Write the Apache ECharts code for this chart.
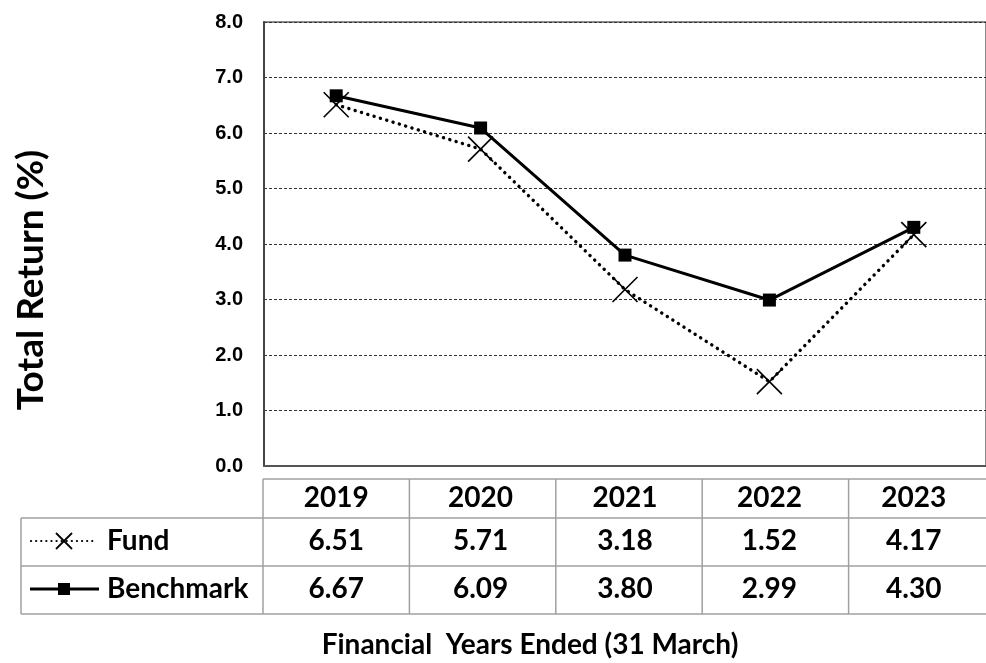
<!DOCTYPE html>
<html>
<head>
<meta charset="utf-8">
<script src="https://cdn.jsdelivr.net/npm/echarts@6/dist/echarts.min.js"></script>
<style>
  html, body { margin: 0; padding: 0; background: #fff; overflow: hidden; }
  #chart { width: 986px; height: 663px; }
</style>
</head>
<body>
<div id="chart"></div>
<script>
const years = ['2019', '2020', '2021', '2022', '2023'];
const fund = [6.51, 5.71, 3.18, 1.52, 4.17];
const benchmark = [6.67, 6.09, 3.80, 2.99, 4.30];
const yMin = 0, yMax = 8, yStep = 1;

const tableFont = 'bold 28px Lato';
const gridColor = '#a0a0a0';

const chart = echarts.init(document.getElementById('chart'));

chart.setOption({
  animation: false,
  grid: { left: 264, top: 22, width: 732, height: 444, show: true, borderColor: '#666', borderWidth: 1.5 },
  xAxis: {
    type: 'category',
    data: years,
    boundaryGap: true,
    axisLine: { lineStyle: { color: '#555', width: 2 } },
    axisTick: { show: false },
    axisLabel: { color: '#000', fontFamily: 'Lato', fontWeight: 'bold', fontSize: 28, margin: 18 }
  },
  yAxis: {
    type: 'value',
    min: yMin, max: yMax, interval: yStep,
    axisLine: { show: true, lineStyle: { color: '#444', width: 2 } },
    axisTick: { show: false },
    axisLabel: {
      color: '#000', fontFamily: 'Liberation Sans', fontWeight: 'bold', fontSize: 20, margin: 21,
      formatter: v => v.toFixed(1)
    },
    splitLine: { lineStyle: { color: '#333', width: 1, type: [3, 2] } }
  },
  series: [
    {
      name: 'Fund',
      type: 'line',
      data: fund,
      symbol: 'path://M0,0L10,10M10,0L0,10',
      symbolSize: 25,
      itemStyle: { color: '#000', borderColor: '#000', borderWidth: 1.6 },
      lineStyle: { color: '#000', width: 3.4, type: [0.1, 6.5], cap: 'round' },
      z: 2
    },
    {
      name: 'Benchmark',
      type: 'line',
      data: benchmark,
      symbol: 'rect',
      symbolSize: 13,
      itemStyle: { color: '#000' },
      lineStyle: { color: '#000', width: 3 },
      z: 3
    }
  ]
});

// data table under the axis, built from the axis positions
const band = 732 / years.length;
const cx = i => chart.convertToPixel({ xAxisIndex: 0 }, years[i]);
const xLeft = cx(0) - band / 2;
const xRight = cx(years.length - 1) + band / 2;
const rowTop = 479, row1 = 518, row2 = 566, rowBot = 614;
const tableLeft = 21;

function hline(x1, x2, y) {
  return { type: 'line', shape: { x1, y1: y, x2, y2: y }, style: { stroke: gridColor, lineWidth: 1.5 } };
}
function vline(x, y1, y2) {
  return { type: 'line', shape: { x1: x, y1, x2: x, y2 }, style: { stroke: gridColor, lineWidth: 1.5 } };
}
function txt(text, x, y, align) {
  return { type: 'text', x, y, style: { text, font: tableFont, fill: '#000', align: align || 'center', verticalAlign: 'middle' } };
}

const els = [];
els.push(hline(xLeft, xRight, rowTop));
els.push(hline(tableLeft, xRight, row1));
els.push(hline(tableLeft, xRight, row2));
els.push(hline(tableLeft, xRight, rowBot));
els.push(vline(tableLeft, row1, rowBot));
for (let i = 0; i < years.length; i++) {
  els.push(vline(xLeft + i * band, rowTop, rowBot));
}
const fy = (row1 + row2) / 2 - 1, by = (row2 + rowBot) / 2 - 1;
years.forEach((y, i) => {
  els.push(txt(fund[i].toFixed(2), cx(i), fy));
  els.push(txt(benchmark[i].toFixed(2), cx(i), by));
});
// legend keys
els.push({ type: 'line', shape: { x1: 31, y1: fy, x2: 95, y2: fy }, style: { stroke: '#000', lineWidth: 2.2, lineDash: [0.1, 5], lineCap: 'round' } });
els.push({ type: 'polyline', shape: { points: [[56, fy - 8], [72, fy + 8]] }, style: { stroke: '#000', lineWidth: 1.8 } });
els.push({ type: 'polyline', shape: { points: [[72, fy - 8], [56, fy + 8]] }, style: { stroke: '#000', lineWidth: 1.8 } });
els.push({ type: 'line', shape: { x1: 30, y1: by, x2: 99, y2: by }, style: { stroke: '#000', lineWidth: 3 } });
els.push({ type: 'rect', shape: { x: 58, y: by - 6, width: 12, height: 12 }, style: { fill: '#000' } });
els.push(txt('Fund', 107, fy, 'left'));
els.push(txt('Benchmark', 107, by, 'left'));
els.push({ type: 'text', x: 530, y: 645, style: { text: 'Financial  Years Ended (31 March)', font: 'bold 28px Lato', fill: '#000', align: 'center', verticalAlign: 'middle' } });
els.push({ type: 'text', x: 31, y: 280, rotation: Math.PI / 2, style: { text: 'Total Return (%)', font: 'bold 37px Lato', fill: '#000', align: 'center', verticalAlign: 'middle' } });

chart.setOption({ graphic: { elements: els } });
</script>
</body>
</html>
